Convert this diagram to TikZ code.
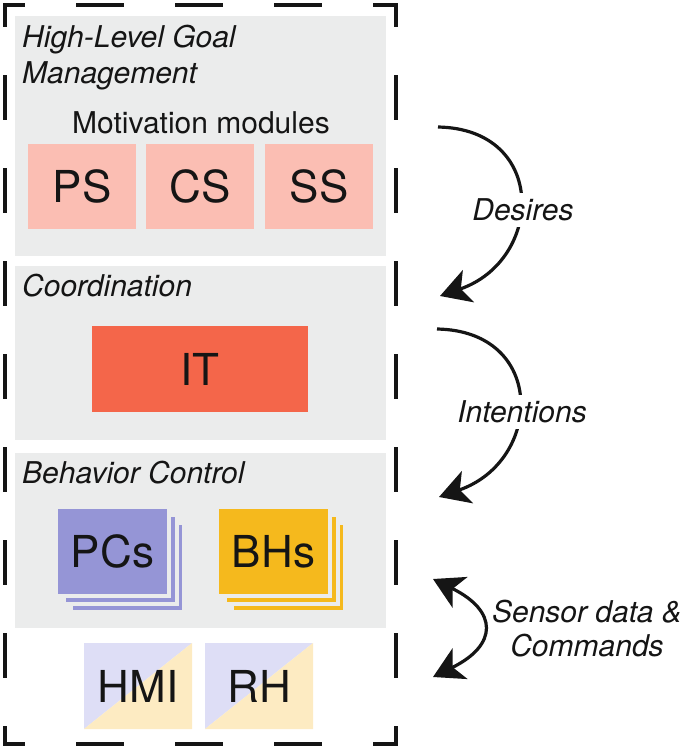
\documentclass[tikz,border=0pt]{standalone}
\usepackage{fontspec}
\setmainfont{TeX Gyre Heros}
\usetikzlibrary{arrows.meta}
\definecolor{panelgray}{HTML}{EBECEC}
\definecolor{pinkbox}{HTML}{FBBEB3}
\definecolor{itred}{HTML}{F4664A}
\definecolor{pcblue}{HTML}{9595D6}
\definecolor{bhyellow}{HTML}{F5B91D}
\definecolor{lav}{HTML}{DEDEF6}
\definecolor{yel}{HTML}{FDEBC2}
\definecolor{ink}{HTML}{151515}
\begin{document}
\begin{tikzpicture}[x=1pt,y=-1pt,
  panel/.style={fill=panelgray, inner sep=0pt, outer sep=0pt, anchor=north west},
  ttl/.style={font=\fontsize{30}{36}\selectfont\itshape, text=ink, inner sep=0pt, anchor=base west},
  sub/.style={font=\fontsize{30}{36}\selectfont, text=ink, inner sep=0pt, anchor=base},
  big/.style={font=\fontsize{44}{52}\selectfont, text=ink, inner sep=0pt, outer sep=0pt, anchor=north west},
  modbox/.style={big, fill=pinkbox, minimum width=108pt, minimum height=85pt},
  cardbox/.style={big, draw=panelgray, line width=4pt, minimum width=113pt, minimum height=89pt},
  layer/.style={draw=panelgray, line width=4pt},
  splitbox/.style={big, minimum width=108pt, minimum height=86pt,
    path picture={
      \fill[lav] (path picture bounding box.south west) -- (path picture bounding box.north west) -- (path picture bounding box.north east) -- cycle;
      \fill[yel] (path picture bounding box.south west) -- (path picture bounding box.north east) -- (path picture bounding box.south east) -- cycle;}},
  tipstyle/.style={},
  flow/.style={line width=3.2pt, draw=ink, -{Stealth[length=30pt,width=34pt,inset=8pt]}},
  flow2/.style={line width=3.2pt, draw=ink, {Stealth[length=30pt,width=34pt,inset=8pt]}-{Stealth[length=30pt,width=34pt,inset=8pt]}},
  arclbl/.style={font=\fontsize{30}{36}\selectfont\itshape, text=ink, fill=white, inner xsep=2pt, inner ysep=6pt},
  border/.style={line width=4pt, line cap=rect, draw=ink}
]
\useasboundingbox (0,0) rectangle (685,750);

% panels
\node[panel, minimum width=371pt, minimum height=240pt] (p1) at (15,16) {};
\node[panel, minimum width=371pt, minimum height=174pt] (p2) at (15,266) {};
\node[panel, minimum width=371pt, minimum height=175pt] (p3) at (15,453) {};

% dashed frame
\coordinate (c1) at (5,5);
\coordinate (c2) at (396,5);
\coordinate (c3) at (396,744);
\coordinate (c4) at (5,744);
\draw[border, dash pattern=on 44pt off 55pt, dash phase=26pt] (c1) -- (c2);
\draw[border, dash pattern=on 44pt off 55pt, dash phase=26pt] (c4) -- (c3);
\draw[border, dash pattern=on 41pt off 52pt, dash phase=21pt] (c1) -- (c4);
\draw[border, dash pattern=on 41pt off 52pt, dash phase=21pt] (c2) -- (c3);

% High-level goal management
\node[ttl] (t1a) at (22,47) {High-Level Goal};
\node[ttl] (t1b) at (22,83) {Management};
\node[sub] (mm) at (201,133) {Motivation modules};
\node[modbox] (ps) at (28,144) {PS};
\node[modbox] (cs) at (146,144) {CS};
\node[modbox] (ss) at (265,144) {SS};

% Coordination
\node[ttl] (t2) at (22,296) {Coordination};
\node[big, fill=itred, minimum width=216pt, minimum height=86pt] (it) at (92,326) {IT};

% Behavior control
\node[ttl] (t3) at (22,483) {Behavior Control};
\draw[layer, fill=pcblue] (71,523) rectangle (184,612);
\draw[layer, fill=pcblue] (63.5,515) rectangle (176.5,604);
\node[cardbox, fill=pcblue] (pcs) at (56,507) {PCs};
\draw[layer, fill=bhyellow] (232,523) rectangle (345,612);
\draw[layer, fill=bhyellow] (224.5,515) rectangle (337.5,604);
\node[cardbox, fill=bhyellow] (bhs) at (217,507) {BHs};

% hardware
\node[splitbox] (hmi) at (84,643) {HMI};
\node[splitbox] (rh) at (205,643) {RH};

% arrows
\coordinate (d1) at (438,127);
\coordinate (d2) at (440,296);
\coordinate (i1) at (437,329);
\coordinate (i2) at (439,497);
\coordinate (s1) at (433,579);
\coordinate (s2) at (433,677);
\draw[flow] (d1) .. controls +(110,2) and +(104,-36) .. (d2);
\draw[flow] (i1) .. controls +(110,2) and +(104,-36) .. (i2);
\draw[flow2] (s1) .. controls +(65,32) and +(65,-32) .. (s2);
\node[arclbl] (des) at (523,210) {Desires};
\node[arclbl] (int) at (522,412) {Intentions};
\node[sub, font=\fontsize{30}{36}\selectfont\itshape] (sd1) at (587,622) {Sensor data \&};
\node[sub, font=\fontsize{30}{36}\selectfont\itshape] (sd2) at (587,656) {Commands};
\end{tikzpicture}
\end{document}
